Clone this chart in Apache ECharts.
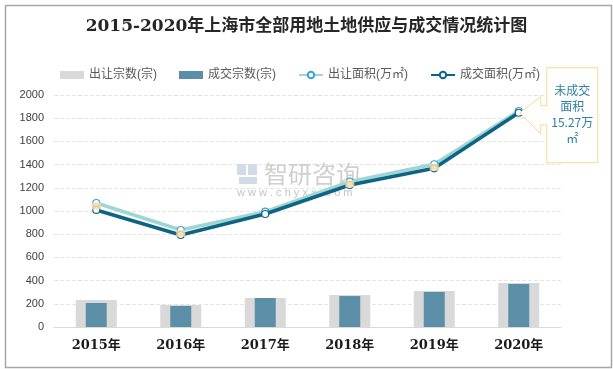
<!DOCTYPE html>
<html>
<head>
<meta charset="utf-8">
<script src="https://cdn.jsdelivr.net/npm/echarts@6/dist/echarts.min.js"></script>
<style>
html,body{margin:0;padding:0;background:#fff;}
#c{width:613px;height:369px;}
</style>
</head>
<body>
<div id="c"></div>
<script>
var categories = ['2015年','2016年','2017年','2018年','2019年','2020年'];
var supplyCount = [233, 190, 250, 276, 310, 379];
var dealCount = [207, 181, 250, 267, 302, 371];
var supplyArea = [1069, 836, 994, 1253, 1403, 1862];
var dealArea = [1009, 793, 974, 1224, 1368, 1847];
var yTicks = [0, 200, 400, 600, 800, 1000, 1200, 1400, 1600, 1800, 2000];
var seriesNames = ['出让宗数(宗)', '成交宗数(宗)', '出让面积(万㎡)', '成交面积(万㎡)'];
var noteText = '未成交\n面积\n15.27万\n㎡';

var chart = echarts.init(document.getElementById('c'), null, {renderer: 'canvas'});
var serifBold = '"DejaVu Serif","Liberation Serif","Noto Sans CJK SC",serif';
var sans = '"Liberation Sans","Noto Sans CJK SC",sans-serif';

var option = {
  animation: false,
  backgroundColor: '#ffffff',
  title: {
    text: '2015-2020年上海市全部用地土地供应与成交情况统计图',
    left: 'center', top: 13,
    textStyle: {fontFamily: serifBold, fontSize: 17, fontWeight: 'bold', color: '#262626'}
  },
  legend: {
    top: 64, left: 55, itemGap: 22, itemWidth: 24, itemHeight: 8,
    textStyle: {fontFamily: sans, fontSize: 12, color: '#595959'},
    data: [
      {name: seriesNames[0], icon: 'rect'},
      {name: seriesNames[1], icon: 'rect'},
      {name: seriesNames[2]},
      {name: seriesNames[3]}
    ]
  },
  grid: {left: 54, right: 52, top: 95, bottom: 42, containLabel: false},
  xAxis: [{
    type: 'category', data: categories,
    axisLine: {lineStyle: {color: '#d9d9d9', width: 1}},
    axisTick: {show: false},
    axisLabel: {fontFamily: serifBold, fontSize: 13, fontWeight: 'bold', color: '#1a1a1a', margin: 12}
  }, {
    type: 'category', data: categories, show: false
  }],
  yAxis: {
    type: 'value', min: yTicks[0], max: yTicks[yTicks.length-1], interval: 200,
    axisLine: {show: false}, axisTick: {show: false},
    axisLabel: {fontFamily: sans, fontSize: 11, color: '#404040', margin: 10,
      formatter: function (v) { return String(v); }},
    splitLine: {lineStyle: {color: '#e6e6e6', type: 'dashed', width: 1}}
  },
  series: [
    {name: seriesNames[0], type: 'bar', xAxisIndex: 0, barWidth: 41, data: supplyCount,
     itemStyle: {color: '#d9d9d9'}},
    {name: seriesNames[1], type: 'bar', xAxisIndex: 1, barWidth: 21, data: dealCount,
     itemStyle: {color: '#5b8fa7'}},
    {name: seriesNames[2], type: 'line', data: supplyArea, symbol: 'circle', symbolSize: 7,
     lineStyle: {color: '#9fd6d2', width: 3.5},
     itemStyle: {color: '#ffffff', borderColor: '#3aa3d6', borderWidth: 1.2},
     markPoint: {symbol: 'rect', symbolSize: [9, 7], silent: true, label: {show: false},
       itemStyle: {color: '#f3dca8', opacity: 0.85},
       data: [{coord: [0, supplyArea[0] - 25]}, {coord: [1, dealArea[1] + 15]}, {coord: [3, dealArea[3] + 10]}, {coord: [4, dealArea[4] + 10]}]},
     z: 3},
    {name: seriesNames[3], type: 'line', data: dealArea, symbol: 'circle', symbolSize: 7,
     lineStyle: {color: '#0d6485', width: 3.5},
     itemStyle: {color: '#ffffff', borderColor: '#0d6485', borderWidth: 1.2},
     z: 4}
  ]
};
chart.setOption(option);

var tip = chart.convertToPixel({gridIndex: 0}, [categories.length - 1, dealArea[dealArea.length - 1]]);
var tx = tip[0] + 1, ty = tip[1];
var L = tx + 27, R = tx + 78, T = ty - 45, B = ty + 50;
var sx = tx + 21;
var pts = [[L, T], [R, T], [R, B], [L, B], [L, ty + 12], [sx, ty + 12], [sx, ty + 21], [tx, ty], [sx, ty - 16], [sx, ty - 7], [L, ty - 7]];

chart.setOption({
  graphic: [
    {type: 'rect', left: 3, top: 3, shape: {width: 606, height: 362},
     style: {fill: 'none', stroke: '#a6a6a6', lineWidth: 1.5}, silent: true, z: 100},
    {type: 'group', left: 237, top: 162, silent: true, z: -1, children: [
      {type: 'rect', shape: {x: 0, y: 2, width: 9, height: 11}, style: {fill: '#d3dbe6'}},
      {type: 'rect', shape: {x: 11, y: 2, width: 9, height: 11}, style: {fill: '#d3dbe6'}},
      {type: 'rect', shape: {x: 2, y: 15, width: 18, height: 7}, style: {fill: '#d3dbe6'}},
      {type: 'text', x: 27, y: 0, style: {text: '智研咨询', font: '24px "Noto Sans CJK SC",sans-serif', fill: '#cfcfcf'}},
      {type: 'text', x: 0, y: 25, style: {text: 'w w w . c h y x x . c o m', font: '11px "Liberation Sans",sans-serif', fill: '#c4c4c4'}}
    ]},
    {type: 'polygon', shape: {points: pts}, style: {fill: '#ffffff', stroke: '#fbd98f', lineWidth: 1}, z: 50, silent: true},
    {type: 'text', x: (L + R) / 2, y: T + 15, z: 51, silent: true,
     style: {text: noteText, align: 'center', verticalAlign: 'top', lineHeight: 16,
       font: '12px "Noto Sans CJK SC",sans-serif', fill: '#2f7fa3'}}
  ]
});
</script>
</body>
</html>
